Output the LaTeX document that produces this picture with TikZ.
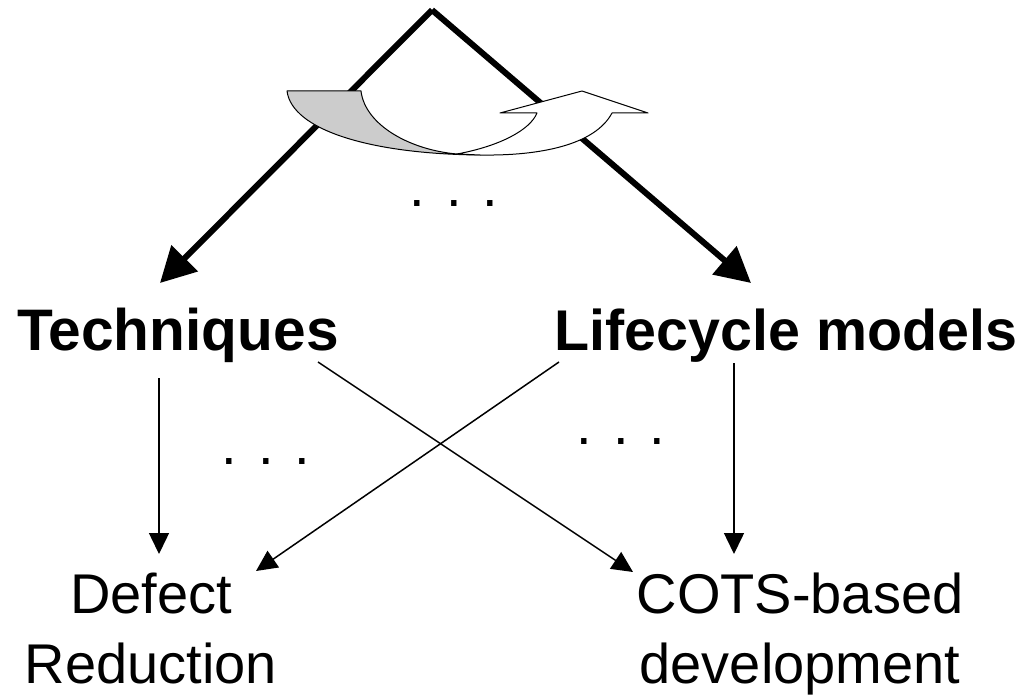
\documentclass[tikz,border=0pt]{standalone}
\usepackage{fontspec}
\setmainfont{Liberation Sans}
\usetikzlibrary{arrows.meta}

\begin{document}
\begin{tikzpicture}[x=0.5pt,y=-0.5pt]
\tikzstyle{every node}+=[inner sep=0pt]
\tikzstyle{heavy}=[line width=3pt,-{Triangle[length=17.5pt,width=18pt]}]
\tikzstyle{light}=[line width=0.75pt,-{Triangle[length=10.5pt,width=10pt]}]
\tikzstyle{big}=[font=\fontsize{29.3}{34}\selectfont\bfseries]
\tikzstyle{small}=[font=\fontsize{28}{35}\selectfont,align=center]
\tikzstyle{ribbon}=[line width=0.5pt,line join=round]
\useasboundingbox (0,0) rectangle (1032,695);
% labels
\node[big,anchor=base] (tech) at (178,350) {Techniques};
\node[big,anchor=base,font=\fontsize{28.7}{34}\selectfont\bfseries] (life) at (786,350) {Lifecycle models};
\node[small,anchor=base] (defect) at (151,683) {Defect\\Reduction};
\node[small,anchor=base] (cots) at (800,683) {COTS-based\\development};
\node[small,anchor=base] (dots1) at (454,206) {. . .};
\node[small,anchor=base] (dots2) at (266,464) {. . .};
\node[small,anchor=base] (dots3) at (621,444) {. . .};
% top split
\coordinate (apex) at (432,10);
\coordinate (ltip) at (160,283);
\coordinate (rtip) at (751,283);
\draw[heavy] (apex) -- (ltip);
\draw[heavy] (apex) -- (rtip);
% curved arrow
\draw[ribbon,fill=black!20] (287,91) -- (361,91) .. controls (365,125) and (410,150) .. (457,154)
  -- (480,155) .. controls (370,154) and (292,130) .. (287,91) -- cycle;
\draw[ribbon,fill=white] (457,154) .. controls (500,146) and (530,130) .. (537,113)
  -- (500,113) -- (582,91) -- (648,113) -- (612,113)
  .. controls (595,145) and (540,156) .. (480,155) -- cycle;
% links
\coordinate (techa) at (159,378);
\coordinate (techb) at (318,362);
\coordinate (lifea) at (559,362);
\coordinate (lifeb) at (734,363);
\coordinate (defa) at (159,554);
\coordinate (defb) at (256,571);
\coordinate (cotsa) at (633,572);
\coordinate (cotsb) at (734,554);
\draw[light] (techa) -- (defa);
\draw[light] (techb) -- (cotsa);
\draw[light] (lifea) -- (defb);
\draw[light] (lifeb) -- (cotsb);
\end{tikzpicture}
\end{document}
